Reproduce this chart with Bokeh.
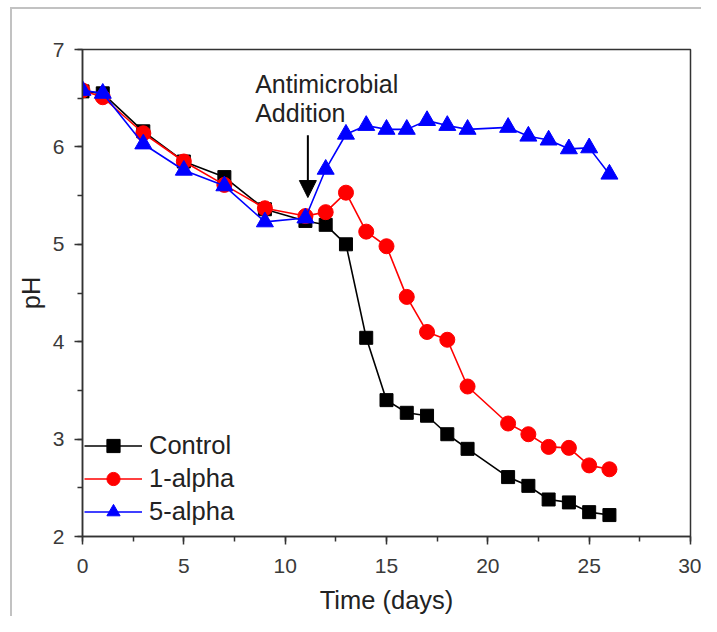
from bokeh.plotting import figure
from bokeh.models import (SingleIntervalTicker, Legend, LegendItem, Label, Arrow,
                          NormalHead, ColumnDataSource)
from bokeh.embed import file_html
from bokeh.resources import INLINE

# ---- data ----
days_all = [0, 1, 3, 5, 7, 9, 11, 12, 13, 14, 15, 16, 17, 18, 19, 21, 22, 23, 24, 25, 26]
control = [6.57, 6.55, 6.16, 5.85, 5.69, 5.36, 5.24, 5.20, 5.00, 4.04, 3.40, 3.27, 3.24,
           3.05, 2.90, 2.61, 2.52, 2.38, 2.35, 2.25, 2.22]
alpha1 = [6.58, 6.51, 6.14, 5.85, 5.61, 5.37, 5.29, 5.33, 5.53, 5.13, 4.98, 4.46, 4.10,
          4.02, 3.54, 3.16, 3.05, 2.92, 2.91, 2.73, 2.69]
alpha5 = [6.58, 6.55, 6.03, 5.76, 5.60, 5.23, 5.27, 5.77, 6.13, 6.22, 6.18, 6.18, 6.27,
          6.22, 6.18, 6.20, 6.11, 6.07, 5.98, 5.99, 5.72]
series_names = ["Control", "1-alpha", "5-alpha"]

x_ticks_interval = 5
y_ticks_interval = 1

annot_lines = ["Antimicrobial", "Addition"]
annot_x = 8.52
annot_y = [6.65, 6.345]
arrow_x = 11.12
arrow_y_start = 6.12
arrow_y_end = 5.48

FONT = "Liberation Sans"

p = figure(width=701, height=616, x_range=(0, 30), y_range=(2, 7),
           output_backend="svg", toolbar_location=None,
           min_border_left=82, min_border_right=11, min_border_top=49, min_border_bottom=77)
# light grey page frame (left and top edges of the surrounding box)
p.styles = {
    "background-color": "white",
    "background-image": "linear-gradient(#c2c2c2, #c2c2c2), linear-gradient(#c2c2c2, #c2c2c2)",
    "background-position": "10px 7px, 10px 7px",
    "background-size": "2px 100%, 100% 2px",
    "background-repeat": "no-repeat",
}
p.background_fill_color = "white"
p.border_fill_color = None
p.outline_line_color = "#333333"
p.outline_line_width = 1.5
p.xgrid.visible = False
p.ygrid.visible = False

for ax, interval in ((p.xaxis[0], x_ticks_interval), (p.yaxis[0], y_ticks_interval)):
    ax.ticker = SingleIntervalTicker(interval=interval, num_minor_ticks=2)
    ax.major_tick_in = 0
    ax.major_tick_out = 8
    ax.minor_tick_in = 0
    ax.minor_tick_out = 5
    ax.axis_line_color = "#333333"
    ax.axis_line_width = 1.5
    ax.major_tick_line_color = "#333333"
    ax.major_tick_line_width = 1.5
    ax.minor_tick_line_color = "#333333"
    ax.minor_tick_line_width = 1.5
    ax.major_label_text_font = FONT
    ax.major_label_text_font_size = "21px"
    ax.major_label_text_color = "#3a3a3a"
    ax.axis_label_text_font = FONT
    ax.axis_label_text_font_size = "25.5px"
    ax.axis_label_text_font_style = "normal"
    ax.axis_label_text_color = "#222222"

p.xaxis.axis_label = "Time (days)"
p.yaxis.axis_label = "pH"
p.xaxis.major_label_standoff = 14
p.yaxis.major_label_standoff = 10
p.xaxis.axis_label_standoff = 10
p.yaxis.axis_label_standoff = 5

src = ColumnDataSource(dict(x=days_all, c=control, a1=alpha1, a5=alpha5))

lc = p.line("x", "c", source=src, line_color="black", line_width=1.6)
mc = p.scatter("x", "c", source=src, marker="square", size=13, fill_color="black", line_color="black")
l1 = p.line("x", "a1", source=src, line_color="#ff0000", line_width=1.6)
m1 = p.scatter("x", "a1", source=src, marker="circle", size=15, fill_color="#ff0000", line_color="#ff0000")
l5 = p.line("x", "a5", source=src, line_color="#0000ff", line_width=1.6)
m5 = p.scatter("x", "a5", source=src, marker="triangle", size=17, fill_color="#0000ff", line_color="#0000ff")

legend = Legend(items=[LegendItem(label=series_names[0], renderers=[lc, mc]),
                       LegendItem(label=series_names[1], renderers=[l1, m1]),
                       LegendItem(label=series_names[2], renderers=[l5, m5])],
                location=(2, 8), orientation="vertical")
legend.label_text_font = FONT
legend.label_text_font_size = "25.5px"
legend.label_text_color = "#222222"
legend.glyph_width = 58
legend.glyph_height = 33
legend.label_height = 33
legend.spacing = 0
legend.padding = 0
legend.margin = 0
legend.label_standoff = 7
legend.border_line_color = None
legend.background_fill_alpha = 0
p.add_layout(legend)

for txt, yy in zip(annot_lines, annot_y):
    p.add_layout(Label(x=annot_x, y=yy, text=txt, text_font=FONT, text_font_size="25px",
                       text_color="#222222", text_baseline="alphabetic", text_align="left"))

p.add_layout(Arrow(end=NormalHead(size=17, fill_color="black", line_color="black"),
                   x_start=arrow_x, y_start=arrow_y_start, x_end=arrow_x, y_end=arrow_y_end,
                   line_color="black", line_width=2))

open("out.html", "w").write(file_html(p, INLINE))
